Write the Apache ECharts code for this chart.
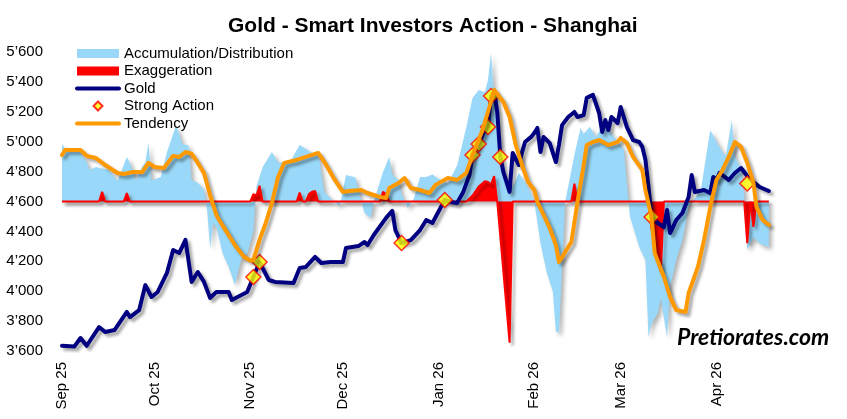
<!DOCTYPE html>
<html><head><meta charset="utf-8">
<script src="https://cdn.jsdelivr.net/npm/echarts@6/dist/echarts.min.js"></script>
<style>html,body{margin:0;padding:0;background:#fff}#c{width:847px;height:419px}</style>
</head><body><div id="c"></div>
<script>
const monthStarts = ['2025-09-01','2025-10-01','2025-11-01','2025-12-01','2026-01-01','2026-02-01','2026-03-01','2026-04-01'];
const monthLabels = ['Sep 25','Oct 25','Nov 25','Dec 25','Jan 26','Feb 26','Mar 26','Apr 26'];

const accDates = ['2025-09-01','2025-09-03','2025-09-06','2025-09-09','2025-09-10','2025-09-12','2025-09-16','2025-09-19','2025-09-21','2025-09-22','2025-09-23','2025-09-25','2025-09-27','2025-09-28','2025-09-29','2025-09-30',
'2025-10-03','2025-10-05','2025-10-08','2025-10-10','2025-10-12','2025-10-13','2025-10-15','2025-10-17','2025-10-18','2025-10-19','2025-10-20','2025-10-21','2025-10-23','2025-10-25','2025-10-27','2025-10-29','2025-10-31',
'2025-11-02','2025-11-03','2025-11-05','2025-11-08','2025-11-10','2025-11-14','2025-11-17','2025-11-21','2025-11-23','2025-11-25','2025-11-28','2025-11-30',
'2025-12-02','2025-12-05','2025-12-07','2025-12-08','2025-12-10','2025-12-11','2025-12-14','2025-12-16','2025-12-17','2025-12-19','2025-12-20','2025-12-22','2025-12-24','2025-12-26','2025-12-28','2025-12-30',
'2026-01-01','2026-01-04','2026-01-07','2026-01-08','2026-01-10','2026-01-12','2026-01-14','2026-01-16','2026-01-17','2026-01-18','2026-01-19','2026-01-20','2026-01-21','2026-01-23','2026-01-25','2026-01-27','2026-01-29','2026-01-31',
'2026-02-01','2026-02-03','2026-02-05','2026-02-07','2026-02-08','2026-02-09','2026-02-10','2026-02-11','2026-02-12','2026-02-14','2026-02-16','2026-02-17','2026-02-19','2026-02-21','2026-02-23','2026-02-25','2026-02-28',
'2026-03-02','2026-03-04','2026-03-07','2026-03-09','2026-03-10','2026-03-11','2026-03-13','2026-03-14','2026-03-16','2026-03-17','2026-03-19','2026-03-21','2026-03-23','2026-03-25','2026-03-27','2026-03-30',
'2026-04-02','2026-04-04','2026-04-06','2026-04-07','2026-04-09','2026-04-10','2026-04-11','2026-04-13','2026-04-15','2026-04-16','2026-04-18'];
const accValues = [4985,4925,4958,4864,4811,4831,4811,4737,4844,4898,4858,4744,4838,4860,4991,4740,
4764,4930,5111,4985,4975,4744,4724,4680,4543,4289,4456,4430,4256,4162,4041,4209,4250,
4400,4700,4830,4931,4860,4870,4978,4925,4925,4664,4600,4570,
4777,4760,4600,4523,4490,4600,4797,4898,4780,4744,4650,4557,4620,4764,4764,4780,
4750,4720,4840,4925,5098,5293,5346,5330,5413,5594,5300,5165,4831,4744,4697,4791,4730,4650,
4604,4322,4128,4000,3730,3720,4150,4600,4700,4911,5092,5050,5100,5030,5111,5080,5000,
4950,4500,4296,4209,3694,3780,3854,3950,3694,4028,4209,4343,4563,4620,4680,5078,
4965,4900,5145,4900,4820,4650,4276,4360,4320,4309,4296];

const exagDates = ['2025-09-01','2025-09-13','2025-09-14','2025-09-15','2025-09-21','2025-09-22','2025-09-23',
'2025-11-01','2025-11-02','2025-11-03','2025-11-04','2025-11-05','2025-11-16','2025-11-17','2025-11-18','2025-11-19','2025-11-20','2025-11-21','2025-11-22','2025-11-23',
'2025-12-13','2025-12-14','2025-12-15','2025-12-16',
'2026-01-10','2026-01-12','2026-01-14','2026-01-16','2026-01-17','2026-01-18','2026-01-19','2026-01-20','2026-01-24','2026-01-25',
'2026-02-13','2026-02-14','2026-02-15',
'2026-03-10','2026-03-11','2026-03-12','2026-03-14','2026-03-15',
'2026-04-10','2026-04-11','2026-04-12','2026-04-13','2026-04-14','2026-04-18'];
const exagValues = [4600,4600,4664,4600,4600,4657,4600,
4600,4650,4640,4705,4600,4600,4660,4600,4600,4650,4665,4670,4600,
4600,4664,4650,4600,
4600,4640,4700,4735,4730,4715,4770,4600,3655,4600,
4600,4720,4600,
4600,4420,4300,4130,4600,
4600,4322,4600,4430,4600,4600];

const goldDates = ['2025-09-01','2025-09-05','2025-09-07','2025-09-09','2025-09-13','2025-09-15','2025-09-18','2025-09-22','2025-09-23','2025-09-26','2025-09-28','2025-09-30',
'2025-10-02','2025-10-05','2025-10-07','2025-10-09','2025-10-11','2025-10-13','2025-10-15','2025-10-17','2025-10-19','2025-10-21','2025-10-25','2025-10-26','2025-10-31',
'2025-11-02','2025-11-04','2025-11-07','2025-11-09','2025-11-15','2025-11-17','2025-11-19','2025-11-22','2025-11-24','2025-11-27',
'2025-12-01','2025-12-02','2025-12-06','2025-12-08','2025-12-09','2025-12-11','2025-12-15','2025-12-17','2025-12-18','2025-12-20','2025-12-23','2025-12-26','2025-12-28','2025-12-30',
'2026-01-03','2026-01-05','2026-01-07','2026-01-09','2026-01-11','2026-01-12','2026-01-14','2026-01-15','2026-01-16','2026-01-17','2026-01-18','2026-01-19','2026-01-20','2026-01-21','2026-01-22','2026-01-24','2026-01-25','2026-01-27','2026-01-28','2026-01-29','2026-01-31',
'2026-02-01','2026-02-02','2026-02-03','2026-02-04','2026-02-06','2026-02-08','2026-02-09','2026-02-10','2026-02-12','2026-02-14','2026-02-15','2026-02-17','2026-02-18','2026-02-20','2026-02-22','2026-02-23','2026-02-24','2026-02-25','2026-02-26','2026-02-28',
'2026-03-01','2026-03-03','2026-03-05','2026-03-07','2026-03-08','2026-03-09','2026-03-10','2026-03-11','2026-03-13','2026-03-15','2026-03-16','2026-03-17','2026-03-19','2026-03-21','2026-03-23','2026-03-24','2026-03-25','2026-03-28','2026-03-30','2026-03-31',
'2026-04-01','2026-04-02','2026-04-05','2026-04-07','2026-04-09','2026-04-11','2026-04-13','2026-04-15','2026-04-18'];
const goldValues = [3635,3630,3687,3635,3760,3727,3740,3861,3827,3874,4041,3961,
3995,4122,4276,4256,4343,4062,4128,4062,3955,3995,3995,3941,3995,
4095,4195,4075,4062,4055,4155,4162,4229,4189,4195,
4195,4289,4302,4329,4309,4376,4490,4537,4409,4322,4342,4409,4476,4456,
4610,4597,4590,4664,4777,4911,4985,5032,5080,5100,5300,5333,5199,4900,4797,4664,4925,4844,4925,4998,5032,
5058,5092,4931,5032,4991,4864,4978,5111,5165,5199,5165,5178,5293,5313,5192,5065,5145,5078,5165,5125,
5232,5098,5011,4998,4965,4880,4700,4500,4456,4429,4543,4389,4476,4523,4630,4777,4664,4677,4657,4764,
4744,4791,4744,4791,4824,4770,4730,4697,4670];

const actionDates = ['2025-11-02','2025-11-04','2025-12-20','2026-01-03','2026-01-12','2026-01-14','2026-01-17','2026-01-18','2026-01-21','2026-03-11','2026-04-11'];
const actionValues = [4095,4195,4322,4610,4911,4985,5098,5306,4898,4496,4720];

const tendDates = ['2025-09-01','2025-09-02','2025-09-07','2025-09-09','2025-09-12','2025-09-15','2025-09-19','2025-09-21','2025-09-24','2025-09-27','2025-09-29',
'2025-10-01','2025-10-04','2025-10-07','2025-10-09','2025-10-11','2025-10-13','2025-10-15','2025-10-17','2025-10-19','2025-10-21','2025-10-23','2025-10-27','2025-10-30',
'2025-11-01','2025-11-02','2025-11-04','2025-11-06','2025-11-08','2025-11-10','2025-11-12','2025-11-16','2025-11-19','2025-11-23','2025-11-25','2025-11-28',
'2025-12-01','2025-12-03','2025-12-07','2025-12-09','2025-12-13','2025-12-15','2025-12-16','2025-12-19','2025-12-21','2025-12-23','2025-12-26','2025-12-29','2025-12-31',
'2026-01-04','2026-01-07','2026-01-10','2026-01-12','2026-01-15','2026-01-17','2026-01-19','2026-01-22','2026-01-24','2026-01-26','2026-01-28','2026-01-30',
'2026-02-01','2026-02-02','2026-02-04','2026-02-06','2026-02-08','2026-02-09','2026-02-11','2026-02-13','2026-02-15','2026-02-17','2026-02-18','2026-02-20','2026-02-22','2026-02-25','2026-02-28',
'2026-03-01','2026-03-03','2026-03-05','2026-03-08','2026-03-09','2026-03-11','2026-03-12','2026-03-15','2026-03-17','2026-03-19','2026-03-22','2026-03-23','2026-03-26','2026-03-28','2026-03-30',
'2026-04-01','2026-04-03','2026-04-05','2026-04-07','2026-04-09','2026-04-11','2026-04-13','2026-04-14','2026-04-16','2026-04-18'];
const tendValues = [4911,4945,4945,4905,4891,4844,4791,4784,4797,4797,4858,
4831,4824,4905,4898,4931,4918,4858,4790,4640,4510,4440,4309,4229,
4205,4209,4343,4456,4590,4764,4858,4878,4898,4925,4864,4757,
4664,4670,4677,4657,4630,4624,4690,4724,4757,4690,4677,4657,4710,
4757,4744,4791,4911,5065,5199,5346,5266,5165,4978,4844,4730,
4677,4597,4510,4423,4309,4195,4262,4329,4597,4844,4978,4998,5011,4978,4998,
5025,4991,4898,4811,4677,4496,4256,4095,3961,3874,3861,3988,4162,4343,4563,
4744,4811,4898,4998,4965,4858,4724,4563,4476,4443];

function ts(s){const p=s.split('-');return new Date(+p[0],+p[1]-1,+p[2]).getTime();}
function zip(d,v){return d.map((x,i)=>[ts(x),v[i]]);}
const monthTs = monthStarts.map(ts);
const FONT = '"Liberation Sans", Arial, sans-serif';
const shadow = {shadowColor:'rgba(0,0,0,0.35)',shadowBlur:3,shadowOffsetX:3,shadowOffsetY:3};
const noSymbol = {color:'rgba(0,0,0,0)',borderColor:'rgba(0,0,0,0)',borderWidth:0};

const chart = echarts.init(document.getElementById('c'), null, {renderer:'canvas'});
chart.setOption({
  animation:false,
  backgroundColor:'#fff',
  title:{text:'Gold - Smart Investors Action - Shanghai',left:223,top:11,
    textStyle:{fontFamily:FONT,fontSize:21,fontWeight:'bold',color:'#000'}},
  legend:{orient:'vertical',left:75,top:46,padding:0,itemWidth:42,itemHeight:9,itemGap:2.5,
    textStyle:{fontFamily:FONT,fontSize:15,color:'#000'},
    data:[{name:'Accumulation/Distribution',icon:'rect'},{name:'Exaggeration',icon:'rect'},
      {name:'Gold',itemStyle:noSymbol,lineStyle:{width:4,cap:'round',color:'#000080'}},
      {name:'Strong Action',icon:'path://M5,0 L10,5 L5,10 L0,5 Z'},
      {name:'Tendency',itemStyle:noSymbol,lineStyle:{width:4,cap:'round',color:'#FF9900'}}]},
  grid:{left:62,right:38,top:52,bottom:68,containLabel:false},
  xAxis:{type:'value',min:ts('2025-09-01'),max:ts('2026-05-01'),scale:true,
    axisLine:{show:false},axisTick:{show:false},splitLine:{show:false},
    axisLabel:{customValues:monthTs,rotate:90,margin:11,fontFamily:FONT,fontSize:15,color:'#000',
      formatter:function(v){const i=monthTs.indexOf(v);return i>=0?monthLabels[i]:'';}}},
  yAxis:{type:'value',min:3600,max:5600,interval:200,
    axisLine:{show:false},axisTick:{show:false},splitLine:{show:false},
    axisLabel:{margin:19,fontFamily:FONT,fontSize:15,color:'#000',
      formatter:function(v){const s=String(v);return s.slice(0,1)+'\u2019'+s.slice(1);}}},
  series:[
    {name:'Accumulation/Distribution',type:'line',data:zip(accDates,accValues),symbol:'none',color:'#99D8F8',
      lineStyle:{width:0},areaStyle:{color:'#99D8F8',origin:4600,opacity:1,shadowColor:'rgba(0,0,0,0.3)',shadowBlur:4,shadowOffsetX:3,shadowOffsetY:3},z:1},
    {name:'Exaggeration',type:'line',data:zip(exagDates,exagValues),symbol:'none',color:'#FF0000',
      lineStyle:Object.assign({width:2,color:'#FF0000'},shadow),areaStyle:{color:'#FF0000',origin:4600,opacity:1},z:2},
    {name:'Gold',type:'line',data:zip(goldDates,goldValues),symbol:'none',color:'#000080',
      lineStyle:Object.assign({width:4,color:'#000080',cap:'round',join:'round'},shadow),z:3},
    {name:'Strong Action',type:'scatter',data:zip(actionDates,actionValues),symbol:'diamond',symbolSize:15,symbolKeepAspect:true,
      itemStyle:{color:'#FFFF00',borderColor:'#FF0000',borderWidth:1.5},color:'#FFFF00',z:4},
    {name:'Tendency',type:'line',data:zip(tendDates,tendValues),symbol:'none',color:'#FF9900',
      lineStyle:Object.assign({width:4,color:'#FF9900',cap:'round',join:'round'},shadow),z:5}
  ],
  graphic:[{type:'text',left:677,top:326,z:10,
    style:{text:'Pretiorates.com',font:'italic bold 23px Lato, "Open Sans", sans-serif',fill:'#000',
      shadowColor:'rgba(0,0,0,0.35)',shadowBlur:2,shadowOffsetX:2,shadowOffsetY:2}}]
});
</script></body></html>
